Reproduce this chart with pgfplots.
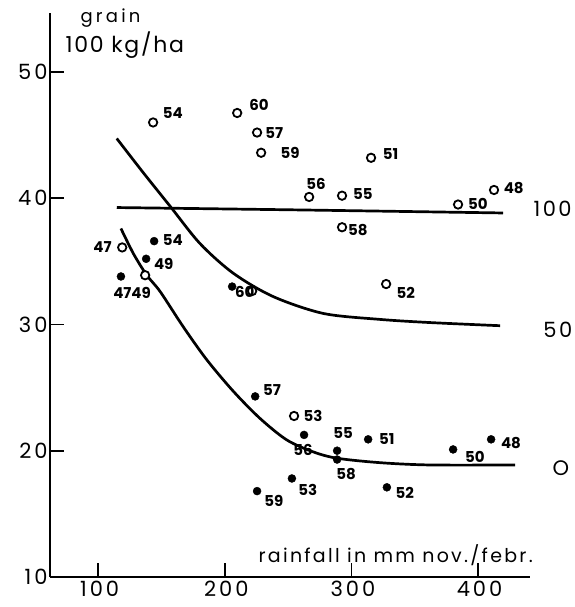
\documentclass[border=0pt]{standalone}
\usepackage{pgfplots}
\usepackage{pgfplotstable}
\usepackage{fontspec}
\setmainfont{Poppins}
\pgfplotsset{compat=1.18}

% open circles
\pgfplotstableread{
x y
143.4 46.0
209.8 46.75
225.5 45.2
228.7 43.6
315.5 43.2
266.6 40.1
292.6 40.2
384.2 39.5
412.6 40.65
292.6 37.7
327.4 33.2
119.0 36.1
137.1 33.9
221.6 32.65
254.7 22.75
}\opendata

% filled dots
\pgfplotstableread{
x y
144.2 36.6
137.9 35.2
118.0 33.8
205.8 33.0
224.0 24.3
225.5 16.8
262.6 21.25
288.7 20.0
288.7 19.3
313.2 20.9
380.3 20.1
410.3 20.9
253.0 17.8
328.0 17.1
}\fulldata

% year labels (label centres)
\pgfplotstableread{
x y lab
159.0 46.75 54
227.0 47.4 60
239.0 45.2 57
251.5 43.6 59
331.0 43.5 51
272.0 41.1 56
309.0 40.3 55
399.8 39.55 50
428.2 40.8 48
305.0 37.5 58
343.0 32.5 52
103.5 36.1 47
126.8 32.5 4749
151.8 34.8 49
159.0 36.7 54
215.8 32.6 60
237.2 24.8 57
238.8 16.0 59
269.6 22.75 53
261.8 20.05 56
293.4 21.4 55
295.8 18.15 58
328.0 20.95 51
397.4 19.5 50
426.0 20.6 48
265.6 16.9 53
342.2 16.65 52
}\labels

\begin{document}
\begin{tikzpicture}
\begin{axis}[
    scale only axis,
    width=480pt, height=564pt,
    xmin=62, xmax=441,
    ymin=10, ymax=54.67,
    axis x line=bottom, axis y line=left,
    axis line style={-, line width=2pt},
    xtick={100,200,300,400},
    ytick={10,20,30,40,50},
    tick align=inside,
    major tick length=14pt,
    tick style={line width=1.8pt, black},
    ticklabel style={font=\fontsize{21}{21}\selectfont\addfontfeatures{LetterSpace=14}},
    /pgf/number format/assume math mode=true,
    xticklabel style={yshift=-1pt, xshift=1.5pt},
    yticklabel style={xshift=1pt},
    clip=false,
]
\addplot[smooth, line width=2.7pt] coordinates {
 (114.7,39.26) (259.5,39.07) (419.7,38.83)};
\addplot[smooth, line width=2.7pt] coordinates {
 (114.7,44.73) (135.8,42.0) (157.1,39.33) (180.5,36.4) (206.8,34.05) (238.4,32.2) (277.9,30.87) (322.6,30.4) (362,30.15) (417.4,29.9)};
\addplot[smooth, line width=2.7pt] coordinates {
 (118.0,37.6) (127.9,35.6) (138.4,33.9) (149.0,32.6) (167.3,29.8) (185.8,27.2) (206.8,24.7) (227.9,22.55) (249,20.85) (270,19.9) (288.9,19.4) (322.8,19.05) (362,18.87) (429.2,18.87)};

\addplot[only marks, mark=*, mark size=4.2pt, mark options={draw=black, fill=white, line width=1.8pt}] table {\opendata};
\addplot[only marks, mark=*, mark size=4pt, mark options={draw=black, fill=black}] table {\fulldata};

\addplot[draw=none, nodes near coords, point meta=explicit symbolic,
    nodes near coords align=center,
    every node near coord/.style={font=\fontsize{15}{15}\selectfont\bfseries, inner sep=0pt, anchor=center}]
    table[meta=lab] {\labels};

\node[anchor=west, font=\fontsize{18}{18}\selectfont\addfontfeatures{LetterSpace=18}] at (axis cs:83.3,54.3) {grain};
\node[anchor=west, font=\fontsize{22}{22}\selectfont\addfontfeatures{LetterSpace=8}] at (axis cs:71.5,52.1) {100 kg/ha};
\node[anchor=east, font=\fontsize{19}{19}\selectfont\addfontfeatures{LetterSpace=12}] at (axis cs:446,11.75) {rainfall in mm nov./febr.};
\node[anchor=west, font=\fontsize{21}{21}\selectfont\addfontfeatures{LetterSpace=12}] at (axis cs:441,39.2) {100};
\node[anchor=west, font=\fontsize{21}{21}\selectfont\addfontfeatures{LetterSpace=12}] at (axis cs:448.8,29.6) {50};
\node[anchor=center, font=\fontsize{21}{21}\selectfont] at (axis cs:465.4,18.6) {O};

\coordinate (bl) at (axis cs:22.5,7.62);
\coordinate (tr) at (axis cs:476.5,55.7);
\end{axis}
\pgfresetboundingbox
\path[use as bounding box] (bl) rectangle (tr);
\end{tikzpicture}
\end{document}
